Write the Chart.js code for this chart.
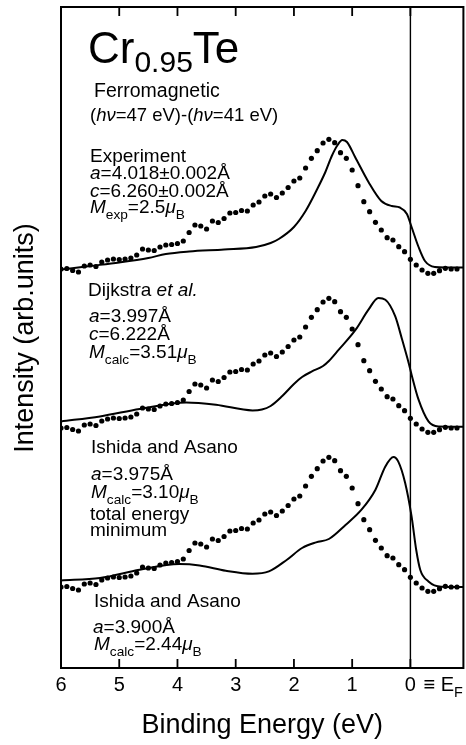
<!DOCTYPE html>
<html><head><meta charset="utf-8">
<script src="https://cdn.jsdelivr.net/npm/chart.js@4/dist/chart.umd.min.js"></script>
<style>html,body{margin:0;padding:0;background:#fff}#wrap{position:relative;width:466px;height:745px}</style>
</head><body><div id="wrap"><canvas id="c"></canvas></div>
<script>
// Experimental difference spectrum (same data repeated in each panel), binding energy in eV
const energyExp = [6.0,5.9,5.8,5.7,5.6,5.5,5.4,5.3,5.2,5.1,5.0,4.9,4.8,4.7,4.6,4.5,4.4,4.3,4.2,4.1,4.0,3.9,3.8,3.7,3.6,3.5,3.4,3.3,3.2,3.1,3.0,2.9,2.8,2.7,2.6,2.5,2.4,2.3,2.2,2.1,2.0,1.9,1.8,1.7,1.6,1.5,1.4,1.3,1.2,1.1,1.0,0.9,0.8,0.7,0.6,0.5,0.4,0.3,0.2,0.1,0.0,-0.1,-0.2,-0.3,-0.4,-0.5,-0.6,-0.7,-0.8];
const intensityExp = [0,0.5,-1.5,-3,3,4,2.5,7,9,10,9.5,10,11,14,20,19,18.5,22,24,24.5,25.5,28,36.5,44,43,40,48,46.5,50.5,56,56.5,58.5,58,64,67,73,75,71.5,76,81.5,88,91,101,110.7,118.3,126,129.7,126.3,116.3,110.7,99,83.3,67.3,57.3,46.7,39,31.3,29,22.3,17.3,9.7,4,-1,-4.3,-4.3,-1.7,0.7,0,0];

// Calculated spectra (solid lines)
const energyCalcExpLattice = [6.0,5.5,5.0,4.5,4.2,3.8,3.2,2.65,2.4,2.26,2.0,1.8,1.6,1.46,1.35,1.25,1.17,1.09,0.95,0.72,0.5,0.32,0.18,0.06,-0.02,-0.14,-0.25,-0.42,-0.6,-0.91];
const intensityCalcExpLattice = [-0.5,3,6.5,11,15,17.5,19.5,22,26,30,42,58,80,97,113,124,129,127,112,87,68,63,61.5,55,42,22,8,2,1.5,1.5];

const energyCalcDijkstra = [6.0,5.33,4.65,3.85,3.34,2.71,2.55,2.4,2.2,2.0,1.86,1.69,1.5,1.4,1.23,0.94,0.72,0.55,0.43,0.26,0.15,0.03,-0.02,-0.14,-0.31,-0.48,-0.91];
const intensityCalcDijkstra = [6.6,11.6,19,25.6,23.3,17.6,18.5,22,32,44,51,56.6,62,67,78.3,98.3,118.3,130,128.3,111.6,90,65,53.3,28.3,6.6,1.6,1.3];

const energyCalcIshida = [6.0,5.33,4.65,3.97,3.62,3.17,2.71,2.43,2.12,1.86,1.62,1.40,1.11,0.84,0.60,0.43,0.29,0.21,0.09,-0.02,-0.10,-0.17,-0.31,-0.53,-0.91];
const intensityCalcIshida = [6.6,9,17.3,23,21.6,16.3,13.3,15.6,27.3,39,44.6,48,62.3,77.3,97.3,120.6,130,125.6,104,70.6,37,17,5.6,0.3,0];

// vertical offsets of the stacked spectra (arb. units)
const panelOffsets = [399, 240, 81];

const xTickValues = [6,5,4,3,2,1,0];
const xTickLabels = ['6','5','4','3','2','1','0'];
const xTitle = 'Binding Energy (eV)';
const yTitle = 'Intensity (arb.units)';

const FONT = '"Liberation Sans", Arial, Helvetica, sans-serif';

function pts(E, I, off) { return E.map((e, i) => ({x: e, y: I[i] + off})); }

const datasets = [];
const calcSets = [
  [energyCalcExpLattice, intensityCalcExpLattice],
  [energyCalcDijkstra, intensityCalcDijkstra],
  [energyCalcIshida, intensityCalcIshida]
];
calcSets.forEach((cs, p) => {
  datasets.push({
    label: 'exp' + p, data: pts(energyExp, intensityExp, panelOffsets[p]),
    showLine: false, pointRadius: 2.6, pointHoverRadius: 2.6,
    pointBackgroundColor: '#000', pointBorderWidth: 0, borderColor: '#000'
  });
  datasets.push({
    label: 'calc' + p, data: pts(cs[0], cs[1], panelOffsets[p]),
    showLine: true, pointRadius: 0, borderColor: '#000', borderWidth: 2,
    cubicInterpolationMode: 'monotone', fill: false
  });
});

function rich(ctx, x, y, parts, base) {
  let cx = x;
  for (const p of parts) {
    const o = typeof p === 'string' ? {t: p} : p;
    const size = o.s || (o.sub ? base * 0.72 : base);
    const dy = o.dy !== undefined ? o.dy : (o.sub ? base * 0.32 : 0);
    ctx.font = (o.i ? 'italic ' : '') + size + 'px ' + FONT;
    ctx.fillText(o.t, cx, y + dy);
    cx += ctx.measureText(o.t).width;
  }
}

const annot = {
  id: 'annot',
  afterDraw(chart) {
    const ctx = chart.ctx, a = chart.chartArea;
    const xs = chart.scales.x;
    ctx.save();
    ctx.strokeStyle = '#000'; ctx.fillStyle = '#000';
    // frame
    ctx.lineWidth = 2;
    ctx.strokeRect(a.left, a.top, a.right - a.left, a.bottom - a.top);
    // Fermi level line
    const x0 = xs.getPixelForValue(0);
    ctx.lineWidth = 1.4;
    ctx.beginPath(); ctx.moveTo(x0, a.top); ctx.lineTo(x0, a.bottom); ctx.stroke();
    // inward ticks top and bottom
    ctx.lineWidth = 1.8;
    xTickValues.forEach(v => {
      const px = xs.getPixelForValue(v);
      ctx.beginPath();
      ctx.moveTo(px, a.top); ctx.lineTo(px, a.top + 9);
      ctx.moveTo(px, a.bottom); ctx.lineTo(px, a.bottom - 9);
      ctx.stroke();
    });
    // tick labels
    ctx.textBaseline = 'alphabetic';
    ctx.textAlign = 'center';
    ctx.font = '20px ' + FONT;
    xTickValues.forEach((v, i) => {
      ctx.fillText(xTickLabels[i], xs.getPixelForValue(v), a.bottom + 23);
    });
    ctx.textAlign = 'left';
    const zx = xs.getPixelForValue(0) + ctx.measureText('0').width / 2;
    rich(ctx, zx + 2, a.bottom + 23, [' \u2261 E', {t: 'F', sub: true}], 20);
    // axis titles
    ctx.textAlign = 'center';
    ctx.font = '27px ' + FONT;
    ctx.fillText(xTitle, (a.left + a.right) / 2 + 0, 733);
    ctx.save();
    ctx.translate(33, 338);
    ctx.rotate(-Math.PI / 2);
    ctx.fillText(yTitle, 0, 0);
    ctx.restore();
    ctx.textAlign = 'left';
    // title
    rich(ctx, 88, 63, [{t: 'Cr', s: 44}, {t: '0.95', s: 30, dy: 9}, {t: 'Te', s: 44}], 44);
    rich(ctx, 94, 97, ['Ferromagnetic'], 19.5);
    rich(ctx, 90, 121, ['(', {t: 'h\u03bd', i: true}, '=47 eV)-(', {t: 'h\u03bd', i: true}, '=41 eV)'], 18.5);
    const B = 19;
    rich(ctx, 90, 162, ['Experiment'], B);
    rich(ctx, 90, 179, [{t: 'a', i: true}, '=4.018\u00b10.002\u00c5'], B);
    rich(ctx, 90, 197, [{t: 'c', i: true}, '=6.260\u00b10.002\u00c5'], B);
    rich(ctx, 90, 213, [{t: 'M', i: true}, {t: 'exp', sub: true}, '=2.5', {t: '\u03bc', i: true}, {t: 'B', sub: true}], B);

    rich(ctx, 88, 296, ['Dijkstra ', {t: 'et al.', i: true}], B);
    rich(ctx, 89, 322, [{t: 'a', i: true}, '=3.997\u00c5'], B);
    rich(ctx, 89, 340, [{t: 'c', i: true}, '=6.222\u00c5'], B);
    rich(ctx, 89, 358, [{t: 'M', i: true}, {t: 'calc', sub: true}, '=3.51', {t: '\u03bc', i: true}, {t: 'B', sub: true}], B);

    rich(ctx, 91, 453, ['Ishida and Asano'], B);
    rich(ctx, 91, 480, [{t: 'a', i: true}, '=3.975\u00c5'], B);
    rich(ctx, 91, 498, [{t: 'M', i: true}, {t: 'calc', sub: true}, '=3.10', {t: '\u03bc', i: true}, {t: 'B', sub: true}], B);
    rich(ctx, 90, 520, ['total energy'], B);
    rich(ctx, 90, 536, ['minimum'], B);

    rich(ctx, 94, 607, ['Ishida and Asano'], B);
    rich(ctx, 93, 633, [{t: 'a', i: true}, '=3.900\u00c5'], B);
    rich(ctx, 94, 650, [{t: 'M', i: true}, {t: 'calc', sub: true}, '=2.44', {t: '\u03bc', i: true}, {t: 'B', sub: true}], B);
    ctx.restore();
  }
};

new Chart(document.getElementById('c'), {
  type: 'scatter',
  data: {datasets},
  options: {
    responsive: true, maintainAspectRatio: false, animation: false, devicePixelRatio: 1,
    layout: {padding: {left: 61, top: 7, right: 1, bottom: 77}},
    scales: {
      x: {type: 'linear', reverse: true, min: -0.91, max: 6, display: false},
      y: {type: 'linear', min: 0, max: 661, display: false}
    },
    plugins: {legend: {display: false}, tooltip: {enabled: false}},
    events: []
  },
  plugins: [annot]
});
</script></body></html>
